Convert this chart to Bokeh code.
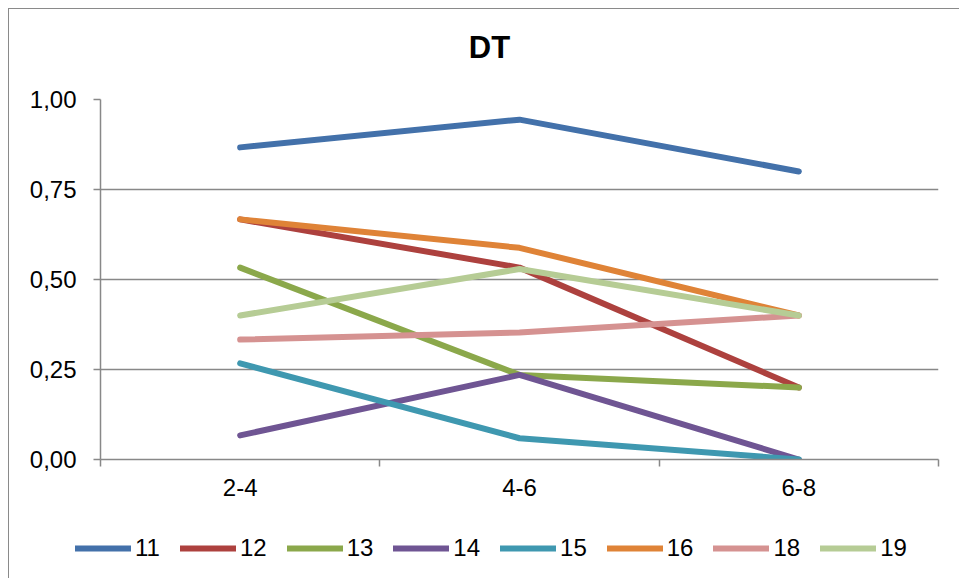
from bokeh.plotting import figure
from bokeh.layouts import column, row
from bokeh.models import FixedTicker, Range1d, Legend, LegendItem, ColumnDataSource, Label
from bokeh.embed import file_html
from bokeh.resources import INLINE

# ---- data ----
title_text = "DT"
categories = ["2-4", "4-6", "6-8"]
cat_pos = [1, 2, 3]
series_names = ["11", "12", "13", "14", "15", "16", "18", "19"]
s11 = [0.867, 0.944, 0.800]
s12 = [0.667, 0.533, 0.200]
s13 = [0.533, 0.235, 0.200]
s14 = [0.067, 0.235, 0.000]
s15 = [0.267, 0.059, 0.000]
s16 = [0.667, 0.588, 0.400]
s18 = [0.333, 0.353, 0.400]
s19 = [0.400, 0.529, 0.400]
series_values = [s11, s12, s13, s14, s15, s16, s18, s19]
colors = ["#4371AA", "#AD413E", "#8BA84B", "#6F5593", "#3F98B0", "#DF8337", "#D59291", "#B6CC95"]
y_ticks = [0.0, 0.25, 0.5, 0.75, 1.0]
y_tick_labels = ["0,00", "0,25", "0,50", "0,75", "1,00"]

FONT = "Liberation Sans"
GRID = "#888888"


def strip(height, y_range):
    f = figure(width=950, height=height, output_backend="svg", toolbar_location=None,
               x_range=Range1d(0.5, 3.5), y_range=y_range,
               x_axis_type=None, y_axis_type=None,
               min_border_left=0, min_border_right=0, min_border_top=0, min_border_bottom=0)
    f.outline_line_color = None
    f.grid.grid_line_color = None
    f.background_fill_color = "white"
    f.border_fill_color = "white"
    return f


# ---- title strip ----
tt = strip(60, Range1d(0, 1))
tt.add_layout(Label(x=480, y=22, x_units="screen", y_units="screen", text=title_text,
                    text_align="center", text_baseline="alphabetic",
                    text_font=FONT, text_font_size="31px", text_font_style="bold",
                    text_color="black"))

# ---- main chart ----
p = figure(width=950, height=460, output_backend="svg", toolbar_location=None,
           x_range=Range1d(0.5, 3.5), y_range=Range1d(0, 1),
           min_border_left=91, min_border_right=21, min_border_top=30, min_border_bottom=70)
p.outline_line_color = None
p.background_fill_color = "white"
p.border_fill_color = "white"

xa = p.xaxis[0]
xa.ticker = FixedTicker(ticks=cat_pos, minor_ticks=[0.5, 1.5, 2.5, 3.5])
xa.major_label_overrides = {c: l for c, l in zip(cat_pos, categories)}
xa.major_tick_out = 0
xa.major_tick_in = 0
xa.minor_tick_out = 7
xa.minor_tick_in = 0
xa.minor_tick_line_color = GRID
xa.minor_tick_line_width = 1.5
xa.axis_line_color = GRID
xa.axis_line_width = 1.5
xa.major_label_text_font = FONT
xa.major_label_text_font_size = "24px"
xa.major_label_text_color = "black"
xa.major_label_standoff = 12

ya = p.yaxis[0]
ya.ticker = FixedTicker(ticks=y_ticks, minor_ticks=[])
ya.major_label_overrides = {t: l for t, l in zip(y_ticks, y_tick_labels)}
ya.major_tick_out = 7
ya.major_tick_in = 0
ya.major_tick_line_color = GRID
ya.major_tick_line_width = 1.5
ya.axis_line_color = GRID
ya.axis_line_width = 1.5
ya.major_label_text_font = FONT
ya.major_label_text_font_size = "24px"
ya.major_label_text_color = "black"
ya.major_label_standoff = 17

p.xgrid.grid_line_color = None
p.ygrid.ticker = FixedTicker(ticks=y_ticks[1:])
p.ygrid.grid_line_color = GRID
p.ygrid.grid_line_width = 1.5

for name, vals, col in zip(series_names, series_values, colors):
    src = ColumnDataSource(dict(x=cat_pos, y=vals))
    p.line("x", "y", source=src, line_color=col, line_width=6,
           line_cap="round", line_join="round")

# ---- legend strip (series lines kept out of view by its y range) ----
lg = strip(49, Range1d(5, 6))
items = []
for name, vals, col in zip(series_names, series_values, colors):
    r = lg.line(x=cat_pos, y=vals, line_color=col, line_width=6, line_cap="round")
    items.append(LegendItem(label=name, renderers=[r]))

legend = Legend(items=items, orientation="horizontal", location=(66, 16),
                glyph_width=56, glyph_height=24, label_standoff=4, spacing=20,
                padding=0, margin=0, border_line_color=None, background_fill_alpha=0,
                label_text_font=FONT, label_text_font_size="24px", label_text_color="black",
                label_height=24)
lg.add_layout(legend, "center")

if "frame_align" in lg.properties():
    for f in (tt, p, lg):
        f.frame_align = False
    page = column(tt, p, lg, spacing=0)
else:
    page = column(row(tt), p, row(lg), spacing=0)
page.styles = {"margin-left": "8px", "margin-top": "8px",
               "border-left": "1px solid #8a8a8a", "border-top": "1px solid #8a8a8a"}

open("out.html", "w").write(file_html(page, INLINE))
